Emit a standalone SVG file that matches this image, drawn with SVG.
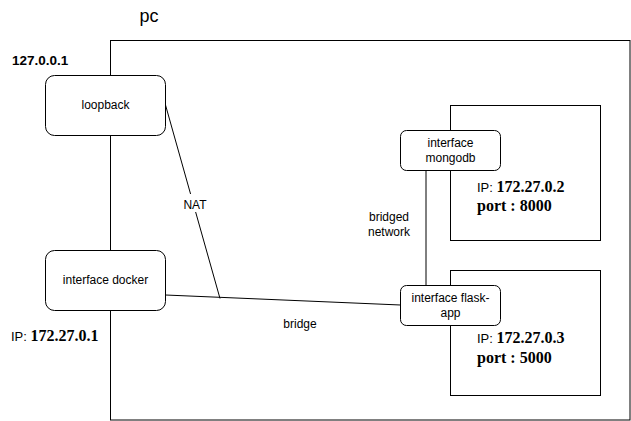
<svg xmlns="http://www.w3.org/2000/svg" width="631" height="421" viewBox="0 0 631 421">
  <style>
    .box { fill: none; stroke: #000; stroke-width: 1; }
    .node { fill: #fff; stroke: #000; stroke-width: 1; }
    .edge { fill: none; stroke: #000; stroke-width: 1; }
    .t { font-family: "Liberation Sans", Arial, sans-serif; font-size: 12px; fill: #000; }
    .c { text-anchor: middle; }
    .ser { font-family: "Liberation Serif", "Times New Roman", serif; font-weight: bold; font-size: 16px; }
  </style>
  <rect width="631" height="421" fill="#fff"/>

  <g id="pc">
    <rect class="box" x="110.5" y="40.5" width="519.5" height="379.5"/>
    <text class="t c" x="149" y="22" style="font-size:18px">pc</text>
  </g>

  <g id="mongodb-container">
    <rect class="box" x="450.5" y="105.5" width="150" height="135"/>
    <text class="t" x="477" y="192"><tspan style="font-size:13px">IP: </tspan><tspan class="ser">172.27.0.2</tspan></text>
    <text class="t ser" x="477" y="211">port : 8000</text>
  </g>

  <g id="flask-container">
    <rect class="box" x="450.5" y="270.5" width="150" height="125"/>
    <text class="t" x="477" y="343"><tspan style="font-size:13px">IP: </tspan><tspan class="ser">172.27.0.3</tspan></text>
    <text class="t ser" x="477" y="363">port : 5000</text>
  </g>

  <g id="connectors">
    <line class="edge" x1="165.5" y1="105" x2="220" y2="298.5"/>
    <rect x="182" y="194" width="26" height="18" fill="#fff"/>
    <text class="t c" x="195" y="209">NAT</text>
    <line class="edge" x1="165.5" y1="295" x2="400.5" y2="305"/>
    <text class="t c" x="300" y="328">bridge</text>
    <line class="edge" x1="426" y1="170.5" x2="426" y2="285.5"/>
    <text class="t c" x="389" y="221">bridged</text>
    <text class="t c" x="389" y="236">network</text>
  </g>

  <g id="loopback">
    <rect class="node" x="45.5" y="75.5" width="120" height="60" rx="9" ry="9"/>
    <text class="t c" x="105.5" y="109">loopback</text>
  </g>
  <text class="t" x="12" y="65" style="font-weight:bold;font-size:13.5px">127.0.0.1</text>

  <g id="interface-docker">
    <rect class="node" x="45.5" y="250.5" width="120" height="60" rx="9" ry="9"/>
    <text class="t c" x="105.5" y="284">interface docker</text>
  </g>
  <text class="t" x="11" y="340.5"><tspan style="font-size:13px">IP: </tspan><tspan class="ser">172.27.0.1</tspan></text>

  <g id="interface-mongodb">
    <rect class="node" x="400.5" y="130.5" width="100" height="40" rx="6" ry="6"/>
    <text class="t c" x="450.5" y="147">interface</text>
    <text class="t c" x="450.5" y="162">mongodb</text>
  </g>

  <g id="interface-flask-app">
    <rect class="node" x="400.5" y="285.5" width="100" height="40" rx="6" ry="6"/>
    <text class="t c" x="450.5" y="302">interface flask-</text>
    <text class="t c" x="450.5" y="317">app</text>
  </g>
</svg>
